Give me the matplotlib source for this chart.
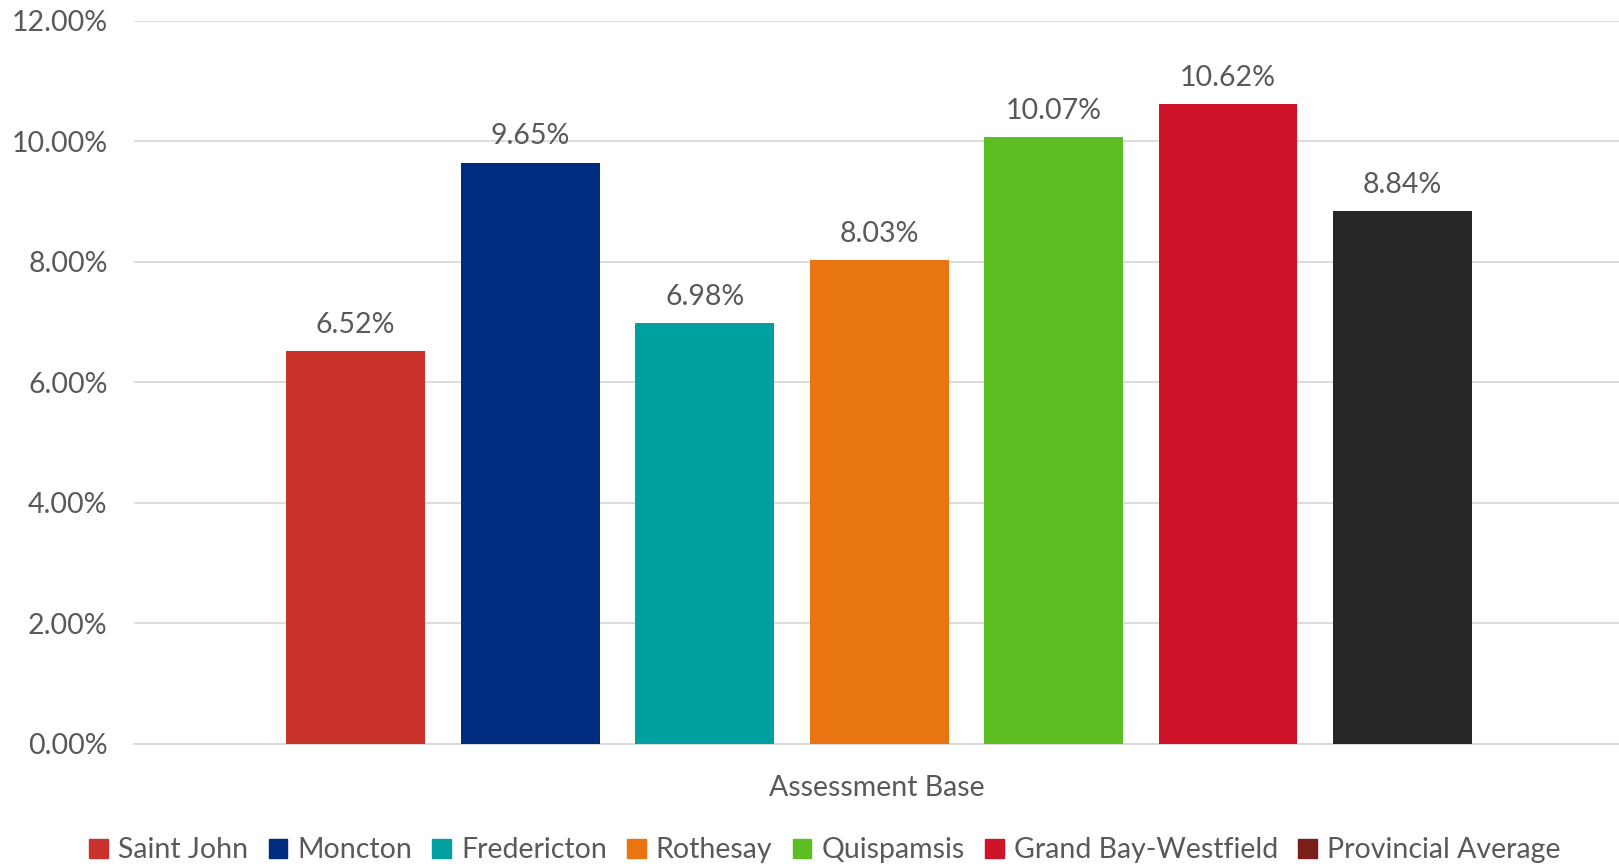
import matplotlib.pyplot as plt
from matplotlib.patches import Patch
from matplotlib.ticker import FuncFormatter

names = ['Saint John', 'Moncton', 'Fredericton', 'Rothesay', 'Quispamsis',
         'Grand Bay-Westfield', 'Provincial Average']
values = [6.52, 9.65, 6.98, 8.03, 10.07, 10.62, 8.84]
bar_colors = ['#C9332C', '#002C7F', '#00A0A0', '#E87511', '#5DBE24', '#CF1429', '#262626']
legend_colors = ['#C9332C', '#002C7F', '#00A0A0', '#E87511', '#5DBE24', '#CF1429', '#7B1E1A']

plt.rcParams['font.family'] = ['Lato', 'DejaVu Sans']
text_col = '#595959'

fig = plt.figure(figsize=(16.19, 8.64), dpi=100)
ax = fig.add_axes([0.0828, 0.1389, 0.9172, 0.8368])

x = list(range(len(values)))
bars = ax.bar(x, values, width=0.795, color=bar_colors, zorder=3)
for xi, v in zip(x, values):
    ax.text(xi, v + 0.22, f'{v:.2f}%', ha='center', va='bottom',
            fontsize=20.5, color=text_col)

ax.set_ylim(0, 12)
ax.set_xlim(-1.27, 7.24)
ax.set_yticks([0, 2, 4, 6, 8, 10, 12])
ax.yaxis.set_major_formatter(FuncFormatter(lambda v, p: f'{v:.2f}%'))
ax.tick_params(axis='y', length=0, labelsize=20.5, labelcolor=text_col, pad=19)
ax.set_xticks([])
ax.grid(axis='y', color='#D9D9D9', linewidth=1.3, zorder=0)
for s in ['top', 'right', 'left']:
    ax.spines[s].set_visible(False)
ax.spines['bottom'].set_color('#D9D9D9')
ax.spines['bottom'].set_linewidth(1.3)

ax.set_xlabel('Assessment Base', fontsize=20.5, color=text_col, labelpad=22)

handles = [Patch(color=c, label=n) for c, n in zip(legend_colors, names)]
fig.legend(handles=handles, loc='center', bbox_to_anchor=(0.5095, 0.016), ncol=7,
           frameon=False, fontsize=20.5, labelcolor=text_col,
           handlelength=0.65, handleheight=0.65, handletextpad=0.35, columnspacing=0.72)

plt.savefig('out.png', dpi=100)
